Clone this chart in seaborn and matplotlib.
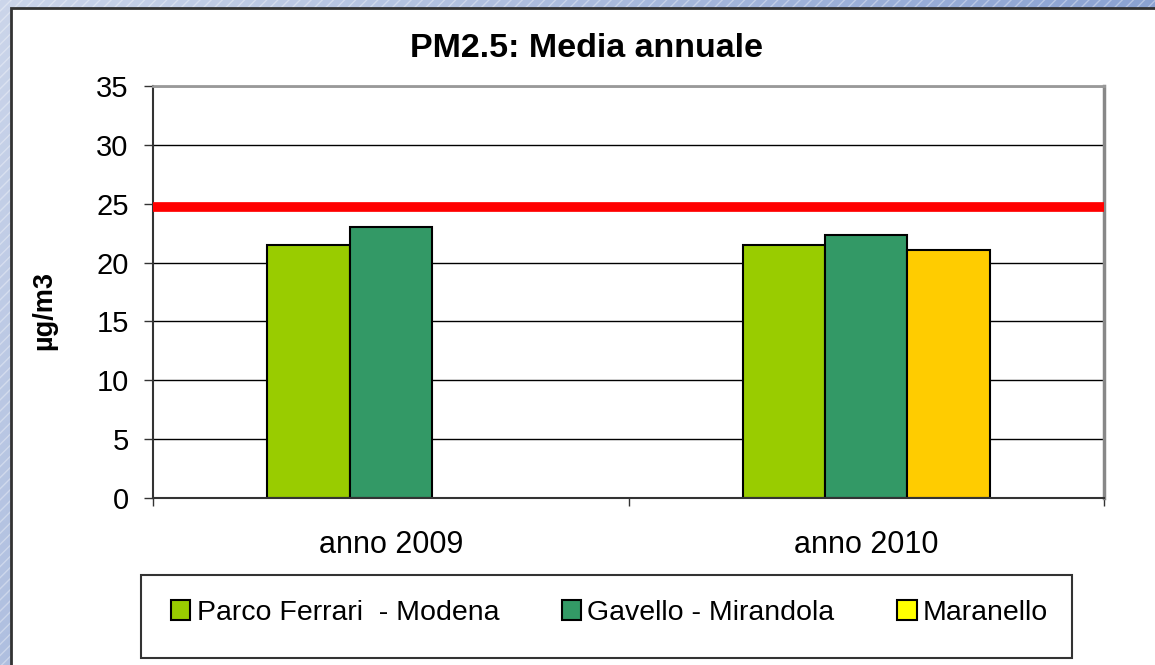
import numpy as np
import pandas as pd
import matplotlib
matplotlib.use("Agg")
import matplotlib.pyplot as plt
from matplotlib.patches import Rectangle, Patch
from matplotlib.colors import LinearSegmentedColormap
import seaborn as sns

# dati
anni = ["anno 2009", "anno 2010"]
stazioni = ["Parco Ferrari  - Modena", "Gavello - Mirandola", "Maranello"]
parco_ferrari = [21.5, 21.5]
gavello = [23.0, 22.3]
maranello = [np.nan, 21.1]
limite = 24.7
y_ticks = [0, 5, 10, 15, 20, 25, 30, 35]

colori = ["#99CC00", "#339966", "#FFCC00"]
colori_legenda = ["#99CC00", "#339966", "#FFFF00"]

righe = []
for nome, valori in zip(stazioni, [parco_ferrari, gavello, maranello]):
    for anno, v in zip(anni, valori):
        righe.append({"anno": anno, "stazione": nome, "valore": v})
df = pd.DataFrame(righe)

sns.set_style("white")
plt.rcParams["font.family"] = ["Liberation Sans", "DejaVu Sans"]
plt.rcParams["text.color"] = "black"
plt.rcParams["xtick.color"] = "black"
plt.rcParams["ytick.color"] = "black"

W, H = 1155, 665
fig = plt.figure(figsize=(W / 100, H / 100), dpi=100)

# sfondo sfumato con righe diagonali
bg = fig.add_axes([0, 0, 1, 1], zorder=-5)
gx, gy = np.meshgrid(np.linspace(0, 1, 200), np.linspace(0, 1, 120))
sfumatura = 0.8 * gx + 0.35 * gy
cmap_bg = LinearSegmentedColormap.from_list("bg", ["#cbd5ea", "#6f8dc8"])
bg.imshow(sfumatura, cmap=cmap_bg, aspect="auto", extent=(0, 1, 0, 1), origin="upper")
bg.add_patch(Rectangle((0, 0), 1, 1, facecolor="none", edgecolor=(1, 1, 1, 0.35),
                       hatch="///", linewidth=0))
bg.set_axis_off()

# pannello bianco
fig.patches.append(Rectangle((11 / W, -0.05), 1.0, (H - 8) / H + 0.05,
                             transform=fig.transFigure, facecolor="white",
                             edgecolor="#333333", linewidth=2, zorder=-2))

ax = fig.add_axes([153 / W, (H - 498) / H, 951 / W, 412 / H])
ax.set_facecolor("white")

sns.barplot(data=df, x="anno", y="valore", hue="stazione", hue_order=stazioni,
            palette=colori, saturation=1, width=0.52, gap=0,
            edgecolor="black", linewidth=1.5, errorbar=None, legend=False, ax=ax)

ax.axhline(limite, color="red", linewidth=7, zorder=4)

ax.set_ylim(0, 35)
ax.set_xlim(-0.5, 1.5)
ax.set_yticks(y_ticks)
ax.yaxis.grid(True, color="black", linewidth=1)
ax.set_axisbelow(True)
ax.set_xlabel("")
ax.set_ylabel("")

for s in ["left", "bottom"]:
    ax.spines[s].set_color("#333333")
    ax.spines[s].set_linewidth(1.5)
ax.spines["top"].set_color("#999999")
ax.spines["top"].set_linewidth(2)
ax.spines["right"].set_color("#888888")
ax.spines["right"].set_linewidth(2.5)

ax.tick_params(axis="y", direction="out", length=6.5, width=1, color="#333333",
               labelsize=21, pad=11, left=True)
ax.set_xticks([-0.5, 0.5, 1.5], minor=True)
ax.tick_params(axis="x", which="minor", direction="out", length=6, width=1,
               color="#333333", bottom=True)
ax.tick_params(axis="x", which="major", length=0, labelsize=22, pad=23)

fig.text(587 / W, 1 - 57 / H, "PM2.5: Media annuale", ha="center", va="baseline",
         fontsize=24.5, fontweight="bold")
fig.text(44 / W, 1 - 310 / H, "µg/m3", ha="center", va="center", rotation=90,
         fontsize=19.5, fontweight="bold")

# riquadro legenda
fig.patches.append(Rectangle((141 / W, (H - 658) / H), 931 / W, 83 / H,
                             transform=fig.transFigure, facecolor="white",
                             edgecolor="#333333", linewidth=1.5, zorder=2))
handles = [Patch(facecolor=c, edgecolor="black", linewidth=1.5) for c in colori_legenda]
fig.legend(handles, stazioni, loc="center left", bbox_to_anchor=(171 / W, 1 - 613 / H),
           ncol=3, frameon=False, fontsize=20.5, handlelength=0.68, handleheight=0.68,
           handletextpad=0.22, columnspacing=2.2, borderpad=0, borderaxespad=0)

fig.savefig("out.png", dpi=100)
